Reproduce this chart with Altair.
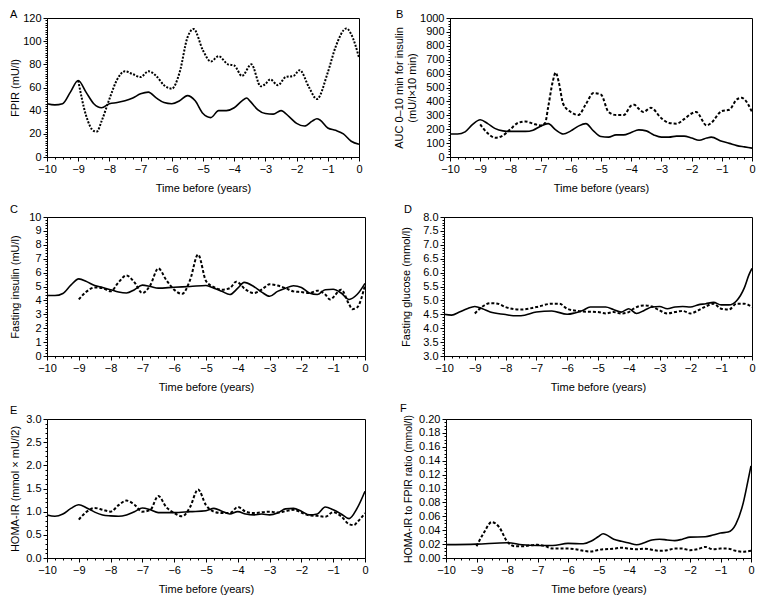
import altair as alt
import numpy as np
import pandas as pd

# ---------------- data ----------------
# Panel A: FPIR
a_solid_t = [-10, -9.75, -9.5, -9.25, -9, -8.75, -8.5, -8.25, -8, -7.75, -7.5, -7.25, -7, -6.75, -6.5, -6.25, -6,
             -5.75, -5.5, -5.25, -5, -4.75, -4.5, -4.25, -4, -3.75, -3.6, -3.5, -3.25, -3, -2.75, -2.5, -2.25, -2,
             -1.75, -1.5, -1.35, -1.25, -1, -0.75, -0.5, -0.25, 0]
a_solid_v = [46, 45, 46, 56, 66, 56, 46, 42.5, 46, 47, 48.5, 51, 54.5, 56, 51, 47, 46, 48.5, 53, 48.5, 37.5, 34,
             40, 40, 42.5, 48.5, 51, 48.5, 41, 37.5, 37, 40, 35, 29, 26.7, 31, 33, 32, 25, 23, 20, 13.6, 11]
a_dash_t = [-9, -8.75, -8.5, -8.4, -8.25, -8, -7.75, -7.5, -7.25, -7, -6.75, -6.5, -6.25, -6, -5.75, -5.5, -5.3,
            -5, -4.75, -4.5, -4.2, -4, -3.75, -3.45, -3.15, -3, -2.85, -2.6, -2.35, -2.1, -1.9, -1.6, -1.35, -1,
            -0.75, -0.4, -0.25, 0]
a_dash_v = [66, 36, 22.5, 22, 31, 50, 67, 74, 71.5, 69, 74, 70, 62, 59, 73, 103, 110.5, 92, 82.5, 87, 80, 79, 70,
            80, 61, 63, 67, 62, 69, 70, 75, 60, 50, 73, 95, 111, 106, 86]

# Panel B: AUC 0-10 min for insulin
b_solid_t = [-10, -9.75, -9.5, -9.25, -9, -8.75, -8.5, -8.25, -8, -7.5, -7.25, -7, -6.75, -6.5, -6.25, -6, -5.75,
             -5.5, -5.25, -5, -4.75, -4.5, -4.25, -4, -3.75, -3.5, -3.25, -3, -2.75, -2.5, -2.25, -2, -1.75, -1.5,
             -1.35, -1, -0.75, -0.5, -0.25, 0]
b_solid_v = [165, 165, 181, 234, 268, 240, 204, 188, 184, 184, 193, 222, 240, 195, 165, 188, 222, 240, 188, 147,
             143, 159, 159, 177, 195, 188, 159, 143, 143, 150, 150, 136, 120, 136, 143, 113, 98, 82, 73, 64]
b_dash_t = [-9, -8.75, -8.5, -8.25, -8, -7.75, -7.5, -7.25, -7, -6.85, -6.75, -6.6, -6.5, -6.4, -6.25, -6, -5.75,
            -5.5, -5.25, -5, -4.75, -4.5, -4.25, -4, -3.9, -3.75, -3.6, -3.35, -3, -2.75, -2.5, -2.25, -2, -1.85,
            -1.5, -1.35, -1, -0.75, -0.5, -0.35, -0.25, 0]
b_dash_v = [234, 170, 138, 154, 200, 245, 256, 240, 227, 245, 358, 540, 608, 540, 381, 324, 302, 381, 460, 449,
            324, 302, 302, 370, 376, 347, 324, 354, 279, 245, 240, 272, 313, 324, 227, 245, 331, 340, 415, 426,
            415, 324]

# Panel C: Fasting insulin
c_solid_t = [-10, -9.75, -9.5, -9.25, -9, -8.75, -8.5, -8.25, -8, -7.75, -7.5, -7.25, -7, -6.75, -6.5, -6, -5.5,
             -5, -4.75, -4.5, -4.25, -4, -3.8, -3.5, -3.25, -3, -2.75, -2.5, -2.25, -2, -1.75, -1.5, -1.25, -1,
             -0.75, -0.5, -0.25, 0]
c_solid_v = [4.35, 4.35, 4.5, 5.1, 5.55, 5.35, 5.07, 4.93, 4.77, 4.6, 4.53, 4.77, 5.1, 5.0, 4.88, 4.95, 5.0, 5.07,
             4.88, 4.65, 4.42, 4.88, 5.3, 5.0, 4.6, 4.3, 4.65, 4.88, 5.05, 4.93, 4.53, 4.42, 4.77, 4.8, 4.53, 4.07,
             4.42, 5.23]
c_dash_t = [-9, -8.75, -8.5, -8.25, -8, -7.75, -7.5, -7.25, -7, -6.75, -6.5, -6.25, -6, -5.75, -5.5, -5.25, -5,
            -4.75, -4.5, -4.25, -4.05, -3.75, -3.5, -3.25, -3, -2.75, -2.5, -2.25, -2, -1.75, -1.5, -1.25, -1.1,
            -0.75, -0.5, -0.4, -0.25, 0]
c_dash_v = [4.07, 4.65, 4.93, 4.88, 4.65, 5.3, 5.8, 5.3, 4.53, 5.1, 6.3, 5.47, 4.77, 4.47, 5.47, 7.3, 5.4, 4.95,
            4.77, 4.88, 5.35, 4.77, 4.53, 4.77, 5.16, 5.07, 4.88, 4.65, 4.6, 4.53, 4.7, 4.42, 4.07, 4.77, 3.72,
            3.37, 3.49, 5.1]

# Panel D: Fasting glucose
d_solid_t = [-10, -9.75, -9.5, -9.25, -9, -8.75, -8.5, -8, -7.75, -7.5, -7, -6.5, -6, -5.75, -5.5, -5.25, -5,
             -4.75, -4.5, -4.25, -4, -3.75, -3.5, -3.25, -3, -2.75, -2.5, -2.25, -2, -1.75, -1.5, -1.25, -1,
             -0.75, -0.5, -0.25, -0.1, 0]
d_solid_v = [4.5, 4.47, 4.58, 4.7, 4.78, 4.7, 4.58, 4.49, 4.45, 4.45, 4.58, 4.62, 4.5, 4.55, 4.64, 4.76, 4.76,
             4.76, 4.67, 4.58, 4.7, 4.53, 4.64, 4.76, 4.78, 4.7, 4.76, 4.78, 4.76, 4.84, 4.88, 4.93, 4.84, 4.84,
             4.99, 5.45, 5.92, 6.15]
d_dash_t = [-9, -8.75, -8.5, -8.25, -8, -7.5, -7, -6.5, -6.25, -6, -5.5, -5, -4.75, -4.5, -4.25, -4, -3.85, -3.5,
            -3.25, -3, -2.75, -2.5, -2.25, -2, -1.75, -1.5, -1.25, -1, -0.75, -0.5, -0.25, 0]
d_dash_v = [4.53, 4.78, 4.9, 4.88, 4.76, 4.67, 4.76, 4.88, 4.88, 4.7, 4.6, 4.58, 4.53, 4.58, 4.53, 4.58, 4.7,
            4.82, 4.78, 4.64, 4.53, 4.58, 4.62, 4.53, 4.64, 4.78, 4.88, 4.7, 4.67, 4.88, 4.88, 4.76]

# Panel E: HOMA-IR
e_solid_t = [-10, -9.75, -9.5, -9.25, -9, -8.75, -8.5, -8.25, -8, -7.75, -7.5, -7.25, -7, -6.75, -6.5, -6, -5.5,
             -5, -4.75, -4.5, -4.25, -4, -3.75, -3.5, -3.25, -3, -2.75, -2.5, -2.25, -2, -1.75, -1.5, -1.25, -1,
             -0.75, -0.5, -0.25, 0]
e_solid_v = [0.93, 0.9, 0.95, 1.07, 1.15, 1.08, 0.99, 0.93, 0.91, 0.9, 0.93, 1.0, 1.08, 1.04, 0.98, 0.98, 1.0,
             1.02, 1.07, 1.01, 0.95, 1.0, 0.95, 0.93, 0.95, 0.93, 0.97, 1.06, 1.07, 1.01, 0.93, 0.95, 1.1, 1.04,
             0.95, 0.85, 1.07, 1.44]
e_dash_t = [-9, -8.75, -8.5, -8.25, -8, -7.75, -7.5, -7.25, -7, -6.75, -6.5, -6.25, -6, -5.75, -5.5, -5.25, -5,
            -4.75, -4.5, -4.25, -4, -3.75, -3.5, -3, -2.75, -2.5, -2.25, -2, -1.75, -1.5, -1.25, -1, -0.75, -0.5,
            -0.35, -0.25, 0]
e_dash_v = [0.83, 1.0, 1.08, 1.04, 1.0, 1.14, 1.24, 1.15, 1.0, 1.04, 1.34, 1.1, 0.97, 0.9, 1.1, 1.48, 1.14, 1.0,
            0.97, 0.97, 1.1, 1.0, 0.97, 1.0, 0.98, 1.01, 1.04, 0.98, 0.92, 0.91, 0.89, 0.99, 0.9, 0.73, 0.71,
            0.77, 0.97]

# Panel F: HOMA-IR to FPIR ratio
f_solid_t = [-10, -9, -8, -7.5, -7, -6.5, -6, -5.5, -5.25, -5, -4.85, -4.5, -4.25, -4, -3.75, -3.5, -3.25, -3,
             -2.75, -2.5, -2.25, -2, -1.5, -1.25, -1, -0.75, -0.5, -0.25, -0.1, 0]
f_solid_v = [0.0193, 0.02, 0.022, 0.019, 0.018, 0.018, 0.021, 0.0205, 0.024, 0.031, 0.035, 0.027, 0.024, 0.0215,
             0.019, 0.022, 0.026, 0.027, 0.026, 0.025, 0.027, 0.030, 0.0306, 0.033, 0.036, 0.0373, 0.0485, 0.08,
             0.111, 0.1326]
f_dash_t = [-9, -8.75, -8.5, -8.25, -8, -7.75, -7.5, -7, -6.75, -6.5, -6, -5.75, -5.5, -5.25, -5, -4.5, -4.25,
            -4, -3.75, -3.5, -3, -2.75, -2.5, -2.25, -2, -1.75, -1.5, -1.25, -1, -0.75, -0.5, -0.25, 0]
f_dash_v = [0.017, 0.037, 0.0517, 0.044, 0.024, 0.017, 0.017, 0.019, 0.017, 0.0135, 0.0135, 0.0126, 0.0103,
            0.0094, 0.0117, 0.0135, 0.0148, 0.0135, 0.0126, 0.0135, 0.0103, 0.0112, 0.0135, 0.0135, 0.0112,
            0.0126, 0.016, 0.0126, 0.0135, 0.0135, 0.0103, 0.009, 0.0103]

x_title = "Time before (years)"
FONT = "Liberation Sans"


def frame(t_s, v_s, t_d, v_d):
    return pd.concat([
        pd.DataFrame({"t": t_s, "v": v_s, "s": "solid"}),
        pd.DataFrame({"t": t_d, "v": v_d, "s": "dashed"}),
    ], ignore_index=True)


def is_major(step):
    return f"abs(datum.value / {step} - round(datum.value / {step})) < 0.001"


def panel(letter, lpos, df, ytitle, ydom, ymajor, yminor, yfmt, width, height, dash, extent, ytsize=11):
    x_vals = [round(float(v), 4) for v in np.arange(-10, 0.0001, 0.25)]
    n = int(round((ydom[1] - ydom[0]) / yminor))
    y_vals = [round(ydom[0] + i * yminor, 5) for i in range(n + 1)]
    x_axis = alt.Axis(
        values=x_vals, title=x_title, grid=False, labelFlush=False, labelOverlap=False,
        labelExpr=f"{is_major(1)} ? replace(format(datum.value, 'd'), '-', '\u2212') : ''",
        tickSize={"condition": {"test": is_major(1), "value": 4}, "value": 2},
        labelPadding=2, titlePadding=8, titleFontWeight="normal",
    )
    y_axis = alt.Axis(
        values=y_vals, title=ytitle, grid=False, labelOverlap=False, labelFlush=False,
        labelExpr=f"{is_major(ymajor)} ? format(datum.value, '{yfmt}') : ''",
        tickSize={"condition": {"test": is_major(ymajor), "value": 4}, "value": 2},
        labelPadding=2, titlePadding=2, titleFontWeight="normal", titleFontSize=ytsize,
        minExtent=extent, maxExtent=extent,
    )
    x = alt.X("t:Q", scale=alt.Scale(domain=[-10, 0], nice=False), axis=x_axis)
    y = alt.Y("v:Q", scale=alt.Scale(domain=ydom, nice=False, zero=False), axis=y_axis)
    base = alt.Chart(df)
    solid = base.transform_filter("datum.s == 'solid'").mark_line(
        color="black", strokeWidth=1.6, interpolate="monotone").encode(x=x, y=y)
    dashed = base.transform_filter("datum.s == 'dashed'").mark_line(
        color="black", strokeWidth=2, strokeDash=dash, interpolate="monotone").encode(x=x, y=y)
    lab = alt.Chart(pd.DataFrame({"l": [letter]})).mark_text(
        text=letter, font=FONT, fontSize=11, color="black", align="left", baseline="middle"
    ).encode(x=alt.value(lpos[0]), y=alt.value(lpos[1]))
    return alt.layer(solid, dashed, lab).properties(width=width, height=height)


H = 139
pA = panel("A", (-37, -3), frame(a_solid_t, a_solid_v, a_dash_t, a_dash_v), "FPIR (mU/l)",
           [0, 120], 20, 2, ".0f", 312, H, [2, 1.5], 25)
pB = panel("B", (-54, -3), frame(b_solid_t, b_solid_v, b_dash_t, b_dash_v),
           ["AUC 0–10 min for insulin", "(mU/l×10 min)"], [0, 1000], 100, 20, ".0f", 302, H, [3, 2], 31)
pC = panel("C", (-37, -7), frame(c_solid_t, c_solid_v, c_dash_t, c_dash_v), "Fasting insulin (mU/l)",
           [0, 10], 1, 0.2, ".0f", 318, H, [3, 2], 25)
pD = panel("D", (-40, -7), frame(d_solid_t, d_solid_v, d_dash_t, d_dash_v), "Fasting glucose (mmol/l)",
           [3, 8], 0.5, 0.1, ".1f", 308, H, [3, 2], 31)
pE = panel("E", (-37, -8), frame(e_solid_t, e_solid_v, e_dash_t, e_dash_v), "HOMA-IR (mmol × mU/l2)",
           [0, 3], 0.5, 0.1, ".1f", 318, H, [3, 2], 25)
pF = panel("F", (-46, -10), frame(f_solid_t, f_solid_v, f_dash_t, f_dash_v), "HOMA-IR to FPIR ratio (mmol/l)",
           [0, 0.2], 0.02, 0.005, ".2f", 305, H, [3, 2], 31, ytsize=10.5)

chart = alt.vconcat(
    alt.hconcat(pA, pB, spacing=28),
    alt.hconcat(pC, pD, spacing=29),
    alt.hconcat(pE, pF, spacing=29),
    spacing=9,
).properties(padding=0, background="white").configure_view(
    stroke="black", strokeWidth=1
).configure_axis(
    domainColor="black", tickColor="black", labelColor="black", titleColor="black",
    labelFont=FONT, titleFont=FONT, labelFontSize=11, titleFontSize=11, titleFontWeight="normal",
    domainWidth=1, tickWidth=1,
)

chart.save("out.html", embed_options={"renderer": "svg", "actions": False})
